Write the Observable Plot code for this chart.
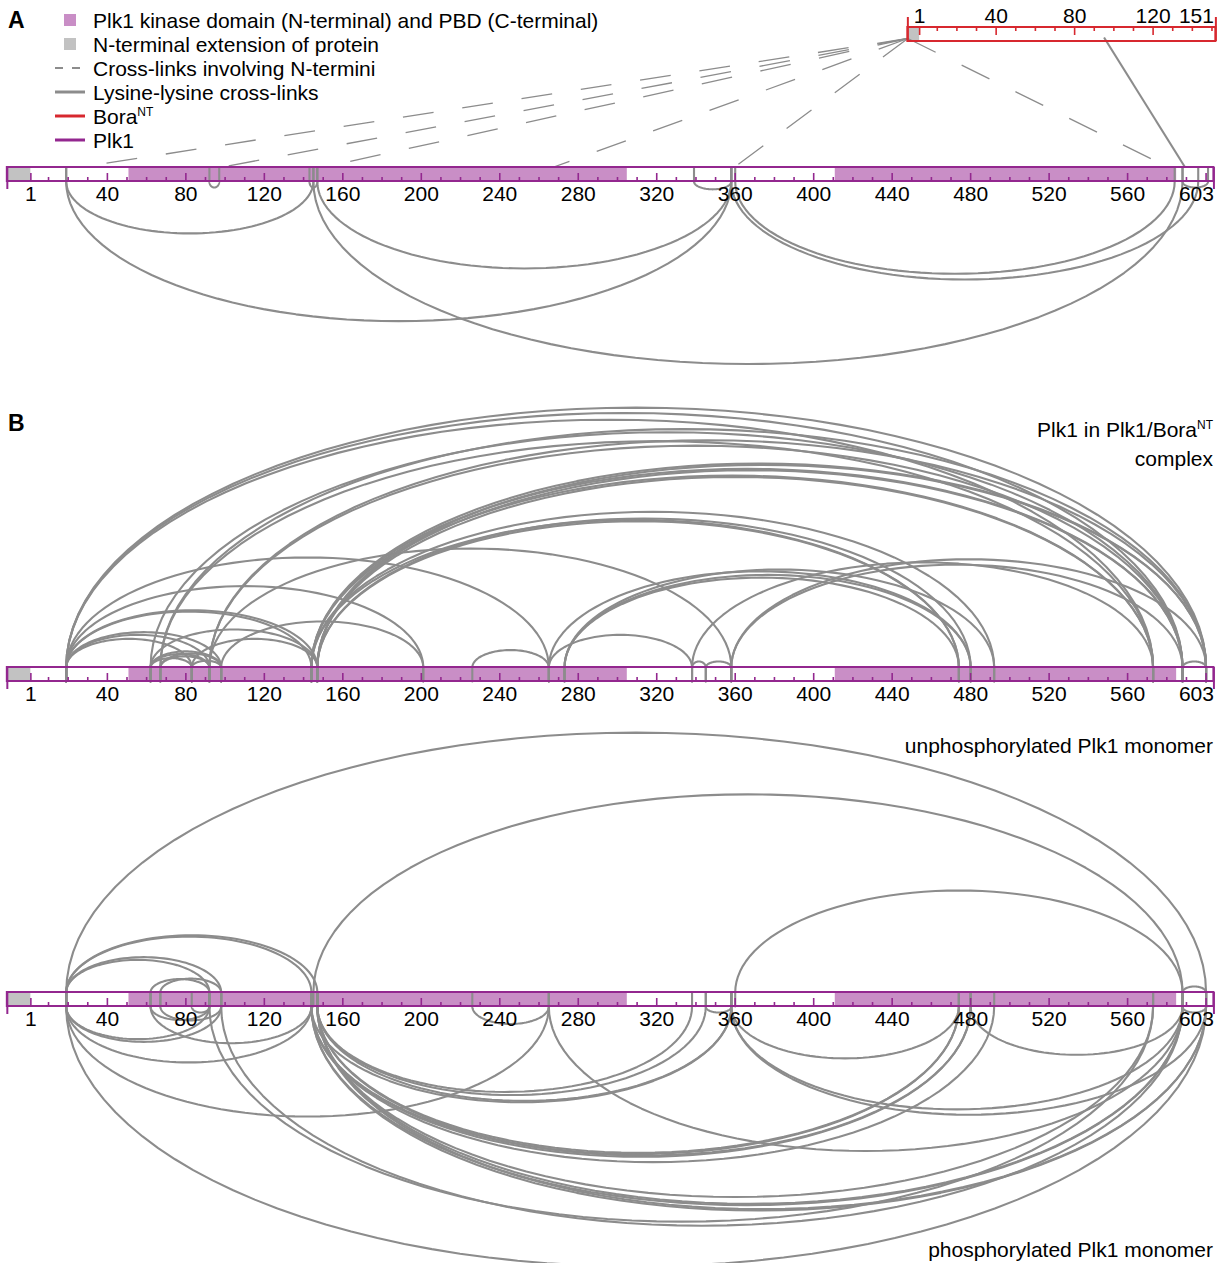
<!DOCTYPE html>
<html><head><meta charset="utf-8">
<script src="https://cdn.jsdelivr.net/npm/d3@7"></script>
<script src="https://cdn.jsdelivr.net/npm/@observablehq/plot@0.6"></script>
<style>
body{margin:0;background:#fff;font-family:"Liberation Sans",Arial,sans-serif;}
#wrap{position:relative;width:1225px;height:1263px;}
.lbl{position:absolute;color:#000;font-size:21px;line-height:1;white-space:nowrap;}
.lbl sup{font-size:12px;vertical-align:0;position:relative;top:-8px;}
.panel{font-weight:bold;font-size:23px;}
.right{text-align:right;}
.sw{position:absolute;}
</style>
</head><body>
<div id="wrap"><div id="chart"></div></div>
<script>
// ---------------- data ----------------
const plk1Length = 604;             // drawn end of the Plk1 bar
const plk1Start = -11;              // start of N-terminal extension
const plk1Segments = [
  {from: -11, to: 1,   kind: "ext"},
  {from: 51,  to: 305, kind: "dom"},
  {from: 411, to: 585, kind: "dom"}
];
const plk1TickLabels = [1, 40, 80, 120, 160, 200, 240, 280, 320, 360, 400, 440, 480, 520, 560, 603];
const plk1MajorTicks = [1, 40, 80, 120, 160, 200, 240, 280, 320, 360, 400, 440, 480, 520, 560, 600];
const plk1MinorTicks = d3.range(10, 601, 10).filter(v => v % 40 !== 0);

const boraStart = -5, boraEnd = 152;
const boraSegments = [{from: -5, to: 1, kind: "ext"}];
const boraTickLabels = [1, 40, 80, 120, 151];
const boraMajorTicks = [1, 40, 80, 120];
const boraMinorTicks = d3.range(10, 151, 10).filter(v => v % 40 !== 0);
const boraOffset = 453;             // Bora residue r is drawn at Plk1 position r + offset

// Panel A: Plk1 lysine-lysine cross-links (below the bar)
const linksA = [
  [19,145],[19,358],[147,358],[145,588],[92,97],[143,147],[339,358],[360,584],[358,596],[588,601]
];
// Panel A: Bora N-terminus to Plk1 (dashed) and Bora K95 to Plk1 (solid)
const boraNtermLinks = [19, 92, 145, 264, 358, 583];
const boraLysLinks = [[95, 590]];

// Panel B: Plk1 in Plk1/Bora complex (above)
const linksB1 = [
  [19,83],[19,92],[19,98],[19,144],[19,147],[19,201],[19,265],[19,573],[19,588],[19,600],
  [62,83],[62,92],[62,98],[62,147],[62,588],
  [67,92],[67,98],[67,573],[67,600],
  [83,98],[83,147],
  [92,358],[92,588],[92,600],
  [98,201],
  [144,474],[144,492],[144,573],[144,588],[144,600],
  [147,474],[147,480],[147,573],[147,588],[147,600],
  [226,265],
  [265,338],[265,480],
  [273,474],[273,480],[273,492],
  [338,345],[338,573],
  [345,358],
  [358,588],[358,600],
  [588,600]
];
// Panel B: unphosphorylated monomer (above)
const linksB2up = [
  [19,600],[145,588],[360,588],[19,144],[19,147],[19,92],[19,98],[62,92],[67,98],[588,600]
];
// Panel B: phosphorylated monomer (below)
const linksB2down = [
  [19,92],[19,98],[62,144],[62,92],[67,98],[83,92],[19,144],[19,265],[19,600],[92,573],[98,588],
  [144,358],[147,358],[147,345],[147,338],
  [144,474],[147,474],[144,480],[147,480],[144,492],
  [144,588],[147,588],[144,600],[147,600],[147,573],
  [226,265],[345,358],[358,474],[480,588],[358,588],[358,600],[265,588],[588,600]
];

// ---------------- layout ----------------
const W = 1225, H = 1263;
const xDomain = [-14.48, 609.9];
const PX = W / (xDomain[1] - xDomain[0]);   // px per residue
const BAR = 14;
const tracks = {A: 167, B1: 667, B2: 992};
const boraTop = 27;
const purple = "#93278f", purpleFill = "#c98ec6", grey = "#c2c2c2", red = "#d7282f", linkC = "#8c8c8c";
const FONT = "Liberation Sans, Arial, sans-serif";

function arcs(links, top, side, k, prefix) {
  const pts = [];
  links.forEach(([a, b], i) => {
    const id = prefix + i;
    const h = Math.max(k * Math.abs(b - a) * PX, 6);
    const base = side > 0 ? top : top + BAR;
    const other = side > 0 ? top + BAR : top;
    pts.push({id, x: a, y: other});
    const n = 60;
    for (let j = 0; j <= n; j++) {
      const t = Math.PI * j / n;
      pts.push({id, x: (a + b) / 2 - (b - a) / 2 * Math.cos(t), y: base - side * h * Math.sin(t)});
    }
    pts.push({id, x: b, y: other});
  });
  return pts;
}

function plk1Track(top) {
  return [
    Plot.rect([{from: plk1Start, to: plk1Length}], {x1: "from", x2: "to", y1: top, y2: top + BAR, fill: "#fff"}),
    Plot.rect(plk1Segments, {x1: "from", x2: "to", y1: top, y2: top + BAR, fill: d => d.kind === "ext" ? grey : purpleFill})
  ];
}
const lastPlk1Label = plk1TickLabels[plk1TickLabels.length - 1];
function plk1Frame(top) {
  return [
    Plot.rect([{from: plk1Start, to: plk1Length}], {x1: "from", x2: "to", y1: top, y2: top + BAR, fill: "none", stroke: purple, strokeWidth: 2}),
    Plot.ruleX(plk1MinorTicks, {x: d => d, y1: top + BAR, y2: top + BAR - 4, stroke: purple, strokeWidth: 1.6}),
    Plot.ruleX(plk1MajorTicks, {x: d => d, y1: top + BAR, y2: top + BAR - 8, stroke: purple, strokeWidth: 1.6}),
    Plot.ruleX([plk1Start, plk1Length], {x: d => d, y1: top, y2: top + BAR + 8, stroke: purple, strokeWidth: 2}),
    Plot.text(plk1TickLabels.slice(0, -1), {x: d => d, y: top + BAR + 13, text: d => String(d),
      textAnchor: "middle", fontSize: 21, fill: "#000", fontFamily: FONT}),
    Plot.text([lastPlk1Label], {x: d => d, y: top + BAR + 13, text: d => String(d),
      textAnchor: "end", dx: 2, fontSize: 21, fill: "#000", fontFamily: FONT})
  ];
}

const linkStyle = {stroke: linkC, strokeWidth: 2.1, curve: "linear", z: "id"};

const marks = [
  // Bora track
  Plot.rect([{from: boraStart, to: boraEnd}], {x1: d => d.from + boraOffset, x2: d => d.to + boraOffset, y1: boraTop, y2: boraTop + BAR, fill: "#fff"}),
  Plot.rect(boraSegments, {x1: d => d.from + boraOffset, x2: d => d.to + boraOffset, y1: boraTop, y2: boraTop + BAR, fill: grey}),
  // dashed and solid Bora–Plk1 cross-links
  Plot.link(boraNtermLinks, {x1: boraStart + boraOffset, y1: boraTop + 11, x2: d => d, y2: tracks.A + 2,
    stroke: linkC, strokeWidth: 1.3, strokeDasharray: "31,29"}),
  Plot.link(boraLysLinks, {x1: d => d[0] + boraOffset, y1: boraTop + 10, x2: d => d[1], y2: tracks.A + 2,
    stroke: linkC, strokeWidth: 2.1}),
  Plot.rect([{from: boraStart, to: boraEnd}], {x1: d => d.from + boraOffset, x2: d => d.to + boraOffset, y1: boraTop, y2: boraTop + BAR, fill: "none", stroke: red, strokeWidth: 2}),
  Plot.ruleX(boraMinorTicks, {x: d => d + boraOffset, y1: boraTop, y2: boraTop + 4, stroke: red, strokeWidth: 1.6}),
  Plot.ruleX(boraMajorTicks, {x: d => d + boraOffset, y1: boraTop, y2: boraTop + 8, stroke: red, strokeWidth: 1.6}),
  Plot.ruleX([boraStart, boraEnd], {x: d => d + boraOffset, y1: boraTop - 10, y2: boraTop + BAR, stroke: red, strokeWidth: 2}),
  Plot.text(boraTickLabels.slice(0, -1), {x: d => d + boraOffset, y: boraTop - 11, text: d => String(d),
    textAnchor: "middle", fontSize: 21, fill: "#000", fontFamily: FONT}),
  Plot.text(boraTickLabels.slice(-1), {x: d => d + boraOffset, y: boraTop - 11, text: d => String(d),
    textAnchor: "end", dx: 0, fontSize: 21, fill: "#000", fontFamily: FONT}),

  // Plk1 tracks
  ...plk1Track(tracks.A), ...plk1Track(tracks.B1), ...plk1Track(tracks.B2),
  Plot.line(arcs(linksA, tracks.A, -1, 0.21, "a"), {x: "x", y: "y", ...linkStyle}),
  Plot.line(arcs(linksB1, tracks.B1, 1, 0.228, "b"), {x: "x", y: "y", ...linkStyle}),
  Plot.line(arcs(linksB2up, tracks.B2, 1, 0.228, "c"), {x: "x", y: "y", ...linkStyle}),
  Plot.line(arcs(linksB2down, tracks.B2, -1, 0.228, "d"), {x: "x", y: "y", ...linkStyle}),
  ...plk1Frame(tracks.A), ...plk1Frame(tracks.B1), ...plk1Frame(tracks.B2)
];

const chart = Plot.plot({
  width: W, height: H,
  margin: 0,
  x: {domain: xDomain, range: [0, W], axis: null},
  y: {domain: [0, H], range: [0, H], axis: null},
  style: {background: "#fff", overflow: "visible"},
  marks
});
document.getElementById("chart").appendChild(chart);

// ---------------- overlay text (legend, panel labels) ----------------
const wrap = document.getElementById("wrap");
function label(html, css, cls = "") {
  const d = document.createElement("div");
  d.className = "lbl " + cls;
  d.innerHTML = html;
  Object.assign(d.style, css);
  wrap.appendChild(d);
}
label("A", {left: "8px", top: "9px"}, "panel");
label("B", {left: "8px", top: "412px"}, "panel");

const legendItems = [
  {text: "Plk1 kinase domain (N-terminal) and PBD (C-terminal)", swatch: "square", color: purpleFill},
  {text: "N-terminal extension of protein", swatch: "square", color: grey},
  {text: "Cross-links involving N-termini", swatch: "dash", color: linkC},
  {text: "Lysine-lysine cross-links", swatch: "line", color: linkC},
  {text: "Bora<sup>NT</sup>", swatch: "line", color: red},
  {text: "Plk1", swatch: "line", color: purple}
];
legendItems.forEach((it, i) => {
  const cy = 20 + i * 24;
  label(it.text, {left: "93px", top: (cy - 10) + "px"});
  const s = document.createElementNS("http://www.w3.org/2000/svg", "svg");
  s.setAttribute("width", 40); s.setAttribute("height", 14);
  s.setAttribute("class", "sw");
  s.style.left = "52px"; s.style.top = (cy - 7) + "px";
  if (it.swatch === "square") {
    s.innerHTML = `<rect x="12" y="1" width="12" height="12" fill="${it.color}"/>`;
  } else if (it.swatch === "dash") {
    s.innerHTML = `<line x1="3" x2="33" y1="7" y2="7" stroke="${it.color}" stroke-width="2" stroke-dasharray="8,9"/>`;
  } else {
    s.innerHTML = `<line x1="3" x2="33" y1="7" y2="7" stroke="${it.color}" stroke-width="3"/>`;
  }
  wrap.appendChild(s);
});

label("Plk1 in Plk1/Bora<sup>NT</sup><br>complex", {right: "12px", top: "417px", lineHeight: "25px"}, "right");
label("unphosphorylated Plk1 monomer", {right: "12px", top: "735px"}, "right");
label("phosphorylated Plk1 monomer", {right: "12px", top: "1239px"}, "right");
</script>
</body></html>
